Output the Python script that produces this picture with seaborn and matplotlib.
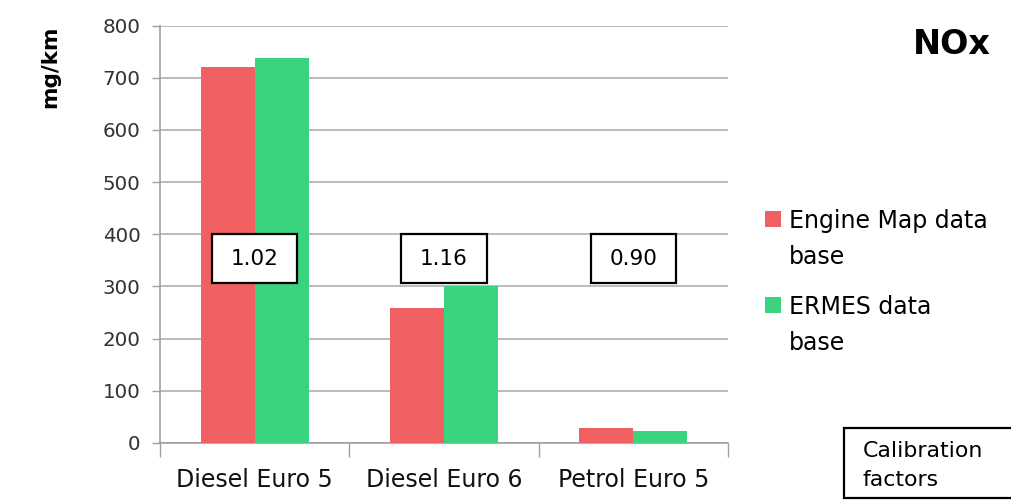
import matplotlib
matplotlib.use("Agg")
import matplotlib.pyplot as plt
import matplotlib.patches as mpatches
import seaborn as sns
import pandas as pd

categories = ["Diesel Euro 5", "Diesel Euro 6", "Petrol Euro 5"]
series_names = ["Engine Map data\nbase", "ERMES data\nbase"]
engine_map = [721, 258, 28]
ermes = [737, 301, 23]
factors = ["1.02", "1.16", "0.90"]
yticks = [0, 100, 200, 300, 400, 500, 600, 700, 800]
colors = ["#F06060", "#3AD47F"]

sns.set_theme(style="white")
plt.rcParams["font.family"] = ["DejaVu Sans"]

W, H = 1012, 503

df = pd.DataFrame({
    "category": categories * 2,
    "series": [series_names[0]] * 3 + [series_names[1]] * 3,
    "value": engine_map + ermes,
})

fig = plt.figure(figsize=(W / 100, H / 100), dpi=100)
ax = fig.add_axes([160 / W, 1 - 443 / H, (728 - 160) / W, (443 - 25.5) / H])

sns.barplot(data=df, x="category", y="value", hue="series", order=categories,
            hue_order=series_names, palette=colors, width=0.57, gap=0,
            saturation=1, ax=ax, legend=False, linewidth=0, zorder=3)

ax.set_ylim(0, 800)
ax.set_xlim(-0.5, 2.5)
ax.set_yticks(yticks)
ax.set_yticklabels([str(v) for v in yticks], fontsize=14.3, color="#333333")
ax.set_xticks(range(3))
ax.set_xticklabels(categories, fontsize=17, color="#111111")
ax.tick_params(axis="x", length=0, pad=18)
ax.tick_params(axis="y", length=6, width=1, color="#A0A0A0", direction="out", pad=8, left=True)
ax.set_xticks([-0.5, 0.5, 1.5, 2.5], minor=True)
ax.tick_params(axis="x", which="minor", length=10, width=1, color="#A0A0A0", bottom=True)
ax.set_xlabel("")
ax.set_ylabel("")
ax.grid(axis="y", color="#B0B0B0", linewidth=1.2, zorder=0)
ax.set_axisbelow(True)
for s in ["top", "right"]:
    ax.spines[s].set_visible(False)
for s in ["left", "bottom"]:
    ax.spines[s].set_color("#A0A0A0")
    ax.spines[s].set_linewidth(1.2)

# calibration factor boxes
for i, f in enumerate(factors):
    rect = mpatches.Rectangle((i - 0.225, 306), 0.45, 94, facecolor="white",
                              edgecolor="black", linewidth=1.6, zorder=5)
    ax.add_patch(rect)
    ax.text(i, 353, f, ha="center", va="center", fontsize=15.5, color="black", zorder=6)

# legend (manual, handles aligned with the first text line)
legend_tops = [219, 305]
for name, col, yc in zip(series_names, colors, legend_tops):
    sq = mpatches.Rectangle((765 / W, 1 - (yc + 8) / H), 16 / W, 16 / H,
                            transform=fig.transFigure, facecolor=col,
                            edgecolor="none", clip_on=False)
    fig.patches.append(sq)
    for k, line in enumerate(name.split("\n")):
        fig.text(789 / W, 1 - (yc + 9 + 36 * k) / H, line, ha="left", va="baseline",
                 fontsize=17, color="black")

fig.text(50 / W, 1 - 67 / H, "mg/km", rotation=90, ha="center", va="center",
         fontsize=15.5, fontweight="bold", color="black")
fig.text(952 / W, 1 - 45 / H, "NOx", ha="center", va="center",
         fontsize=24, fontweight="bold", color="black")

box = mpatches.Rectangle((844 / W, 1 - 498 / H), 180 / W, 70 / H,
                         transform=fig.transFigure, facecolor="white",
                         edgecolor="black", linewidth=1.6, clip_on=False)
fig.patches.append(box)
fig.text(863 / W, 1 - 457 / H, "Calibration", ha="left", va="baseline",
         fontsize=15.8, color="black")
fig.text(863 / W, 1 - 486 / H, "factors", ha="left", va="baseline",
         fontsize=15.8, color="black")

fig.savefig("out.png", dpi=100)
